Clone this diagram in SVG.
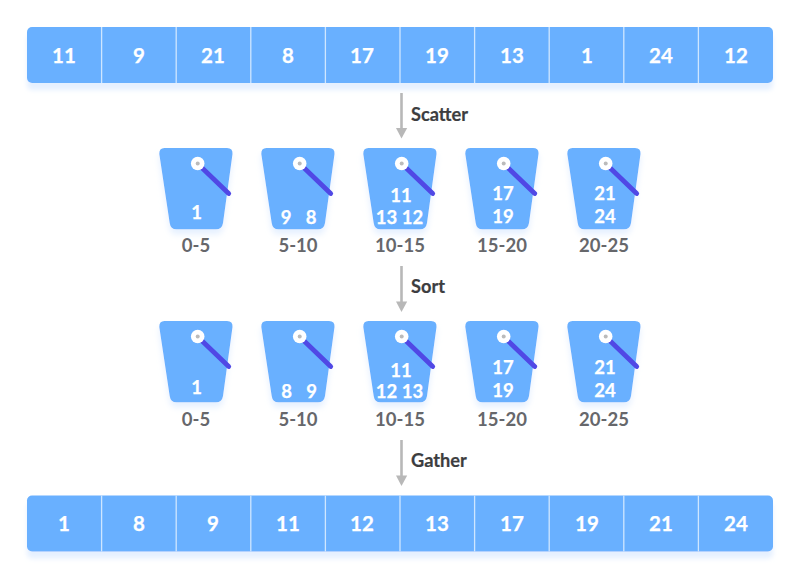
<svg xmlns="http://www.w3.org/2000/svg" width="800" height="579" viewBox="0 0 800 579">
<style>
text{font-family:Lato,"Open Sans",sans-serif;font-weight:700}
.n{fill:#fff;font-size:20.500px;text-anchor:middle;stroke:#fff;stroke-width:.25}
.b{fill:#fff;font-size:18.500px;text-anchor:middle;stroke:#fff;stroke-width:.25}
.r{fill:#66676b;font-size:18.500px;text-anchor:middle}
.l{fill:#3c3d40;font-size:18.200px;stroke:#3c3d40;stroke-width:.2}
.d{stroke:#cfe6ff;stroke-width:1.3}
.c{stroke:#b8b8b8;stroke-width:2.6;fill:none}
.a{fill:#b8b8b8}
</style>
<defs>
<filter id="sb" x="-10%" y="-10%" width="120%" height="140%"><feDropShadow dx="0" dy="7" stdDeviation="2.500" flood-color="#e2eeff" flood-opacity=".9"/></filter>
<filter id="sk" x="-20%" y="-20%" width="140%" height="140%"><feDropShadow dx="0" dy="5" stdDeviation="3" flood-color="#e2eeff" flood-opacity=".9"/></filter>
<g id="bar">
<rect x="27" y="27" width="746" height="56" rx="5" fill="#69b0ff" filter="url(#sb)"/>
<path class="d" d="M101.600 27V83M176.200 27V83M250.800 27V83M325.400 27V83M400 27V83M474.600 27V83M549.200 27V83M623.800 27V83M698.400 27V83"/>
</g>
<g id="bucket">
<path d="M164.500 148H227Q233 148 232.500 154L223 223Q222 229.300 216 229.300H176.500Q170.500 229.300 169.700 223L159.300 154Q159 148 164.500 148Z" fill="#69b0ff" filter="url(#sk)"/>
<path d="M198 164L228.700 193.500" stroke="#5048e5" stroke-width="4.800" stroke-linecap="round"/>
<circle cx="197.700" cy="163.500" r="6.800" fill="#fff"/>
<circle cx="197.700" cy="163.500" r="2" fill="#bbb"/>
</g>
</defs>
<g id="array-top"><use href="#bar"/>
<text class="n" x="64" y="63">11</text><text class="n" x="139" y="63">9</text><text class="n" x="213" y="63">21</text><text class="n" x="288" y="63">8</text><text class="n" x="362" y="63">17</text><text class="n" x="437" y="63">19</text><text class="n" x="512" y="63">13</text><text class="n" x="587" y="63">1</text><text class="n" x="661" y="63">24</text><text class="n" x="736" y="63">12</text></g>
<g id="connectors">
<path class="c" d="M401.500 93V129"/><path class="a" d="M396 128H407.200L401.500 138.500Z"/>
<path class="c" d="M401.500 266V302"/><path class="a" d="M396 301.500H407.200L401.500 312Z"/>
<path class="c" d="M401.500 440V476"/><path class="a" d="M396 475.500H407.200L401.500 486Z"/>
</g>
<text class="l" x="411" y="120.500">Scatter</text>
<text class="l" x="411" y="292.500">Sort</text>
<text class="l" x="411" y="466.500">Gather</text>
<g id="s1"><use href="#bucket"/><text class="b" x="196.500" y="219">1</text><text class="r" x="196" y="252">0-5</text></g>
<g id="s2"><use href="#bucket" x="102"/><text class="b" x="286" y="224">9</text><text class="b" x="311" y="224">8</text><text class="r" x="298" y="252">5-10</text></g>
<g id="s3"><use href="#bucket" x="204"/><text class="b" x="401" y="202">11</text><text class="b" x="386.500" y="224">13</text><text class="b" x="412.500" y="224">12</text><text class="r" x="400" y="252">10-15</text></g>
<g id="s4"><use href="#bucket" x="306"/><text class="b" x="503" y="200">17</text><text class="b" x="503" y="222.500">19</text><text class="r" x="502" y="252">15-20</text></g>
<g id="s5"><use href="#bucket" x="408"/><text class="b" x="605" y="200">21</text><text class="b" x="605" y="222.500">24</text><text class="r" x="604" y="252">20-25</text></g>
<g id="t1"><use href="#bucket" y="173"/><text class="b" x="196.500" y="393.500">1</text><text class="r" x="196" y="426">0-5</text></g>
<g id="t2"><use href="#bucket" x="102" y="173"/><text class="b" x="286.500" y="397.500">8</text><text class="b" x="311.500" y="397.500">9</text><text class="r" x="298" y="426">5-10</text></g>
<g id="t3"><use href="#bucket" x="204" y="173"/><text class="b" x="401" y="376.500">11</text><text class="b" x="386.500" y="397.500">12</text><text class="b" x="412.500" y="397.500">13</text><text class="r" x="400" y="426">10-15</text></g>
<g id="t4"><use href="#bucket" x="306" y="173"/><text class="b" x="503" y="374">17</text><text class="b" x="503" y="396.500">19</text><text class="r" x="502" y="426">15-20</text></g>
<g id="t5"><use href="#bucket" x="408" y="173"/><text class="b" x="605" y="374">21</text><text class="b" x="605" y="396.500">24</text><text class="r" x="604" y="426">20-25</text></g>
<g id="array-bottom"><use href="#bar" y="468.500"/>
<text class="n" x="64" y="531">1</text><text class="n" x="139" y="531">8</text><text class="n" x="213" y="531">9</text><text class="n" x="288" y="531">11</text><text class="n" x="362" y="531">12</text><text class="n" x="437" y="531">13</text><text class="n" x="512" y="531">17</text><text class="n" x="587" y="531">19</text><text class="n" x="661" y="531">21</text><text class="n" x="736" y="531">24</text></g>
</svg>
